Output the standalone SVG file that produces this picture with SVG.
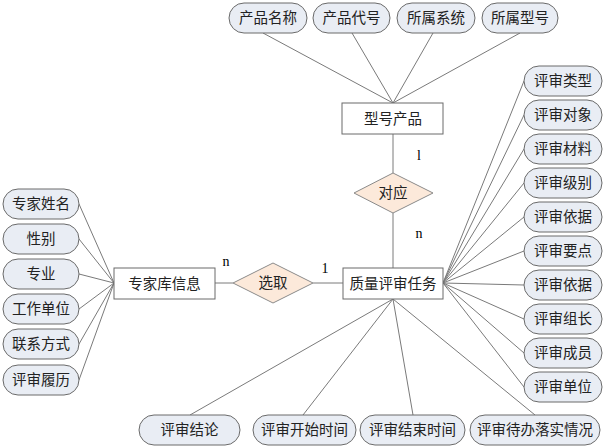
<svg xmlns="http://www.w3.org/2000/svg" width="604" height="447" viewBox="0 0 604 447">
<style>
.attr{fill:#e9edf4;stroke:#6a6a6a;stroke-width:1}
.ent{fill:#ffffff;stroke:#6a6a6a;stroke-width:1}
.rel{fill:#fce9da;stroke:#8a8a8a;stroke-width:1}
.conn line{stroke:#7a7a7a;stroke-width:1}
text{font-family:"Liberation Serif","Noto Sans CJK SC",serif;font-size:14.5px;fill:#222;text-anchor:middle;dominant-baseline:central}
.card{font-size:14px;fill:#000}
</style>
<rect width="604" height="447" fill="#ffffff"/>
<g id="connectors" class="conn">
<line x1="263" y1="33" x2="393" y2="103"/>
<line x1="352" y1="33" x2="393" y2="103"/>
<line x1="433" y1="33" x2="393" y2="103"/>
<line x1="520" y1="33" x2="393" y2="103"/>
<line x1="393" y1="134" x2="393" y2="173"/>
<line x1="393" y1="213" x2="393" y2="268"/>
<line x1="79" y1="204" x2="114" y2="283"/>
<line x1="79" y1="239" x2="114" y2="283"/>
<line x1="79" y1="274" x2="114" y2="283"/>
<line x1="79" y1="309" x2="114" y2="283"/>
<line x1="79" y1="344" x2="114" y2="283"/>
<line x1="79" y1="380" x2="114" y2="283"/>
<line x1="215" y1="283" x2="233" y2="283"/>
<line x1="313" y1="283" x2="343" y2="283"/>
<line x1="524" y1="81" x2="443" y2="283"/>
<line x1="524" y1="115" x2="443" y2="283"/>
<line x1="524" y1="149" x2="443" y2="283"/>
<line x1="524" y1="183" x2="443" y2="283"/>
<line x1="524" y1="217" x2="443" y2="283"/>
<line x1="524" y1="251" x2="443" y2="283"/>
<line x1="524" y1="285" x2="443" y2="283"/>
<line x1="524" y1="319" x2="443" y2="283"/>
<line x1="524" y1="353" x2="443" y2="283"/>
<line x1="524" y1="387" x2="443" y2="283"/>
<line x1="393" y1="299" x2="190" y2="415"/>
<line x1="393" y1="299" x2="303" y2="415"/>
<line x1="393" y1="299" x2="413" y2="415"/>
<line x1="393" y1="299" x2="535" y2="415"/>
</g>
<g id="cards">
<text class="card" x="419" y="155">l</text>
<text class="card" x="419" y="233">n</text>
<text class="card" x="226" y="261">n</text>
<text class="card" x="325" y="268">1</text>
</g>
<g id="e-xinghao"><rect class="ent" x="342" y="103" width="101" height="31"/><text x="393" y="118.5">型号产品</text></g>
<g id="e-zhiliang"><rect class="ent" x="343" y="268" width="100" height="31"/><text x="393" y="283.5">质量评审任务</text></g>
<g id="e-zhuanjia"><rect class="ent" x="114" y="268" width="101" height="31"/><text x="164.5" y="283.5">专家库信息</text></g>
<g id="r-duiying"><polygon class="rel" points="393,173 433,193 393,213 354,193"/><text x="393" y="193">对应</text></g>
<g id="r-xuanqu"><polygon class="rel" points="273,263 313,283 273,303 233,283"/><text x="273" y="283">选取</text></g>
<g id="a-top1"><rect class="attr" x="229" y="3" width="78" height="30" rx="15"/><text x="268" y="18">产品名称</text></g>
<g id="a-top2"><rect class="attr" x="313" y="3" width="77" height="30" rx="15"/><text x="351.5" y="18">产品代号</text></g>
<g id="a-top3"><rect class="attr" x="397" y="3" width="78" height="30" rx="15"/><text x="436" y="18">所属系统</text></g>
<g id="a-top4"><rect class="attr" x="482" y="3" width="76" height="30" rx="15"/><text x="520" y="18">所属型号</text></g>
<g id="a-left1"><rect class="attr" x="3" y="189" width="76" height="30" rx="15"/><text x="41" y="204">专家姓名</text></g>
<g id="a-left2"><rect class="attr" x="3" y="224" width="76" height="30" rx="15"/><text x="41" y="239">性别</text></g>
<g id="a-left3"><rect class="attr" x="3" y="259" width="76" height="30" rx="15"/><text x="41" y="274">专业</text></g>
<g id="a-left4"><rect class="attr" x="3" y="294" width="76" height="30" rx="15"/><text x="41" y="309">工作单位</text></g>
<g id="a-left5"><rect class="attr" x="3" y="329" width="76" height="30" rx="15"/><text x="41" y="344">联系方式</text></g>
<g id="a-left6"><rect class="attr" x="3" y="365" width="76" height="30" rx="15"/><text x="41" y="380">评审履历</text></g>
<g id="a-r1"><rect class="attr" x="524" y="66" width="78" height="30" rx="15"/><text x="563" y="81">评审类型</text></g>
<g id="a-r2"><rect class="attr" x="524" y="100" width="78" height="30" rx="15"/><text x="563" y="115">评审对象</text></g>
<g id="a-r3"><rect class="attr" x="524" y="134" width="78" height="30" rx="15"/><text x="563" y="149">评审材料</text></g>
<g id="a-r4"><rect class="attr" x="524" y="168" width="78" height="30" rx="15"/><text x="563" y="183">评审级别</text></g>
<g id="a-r5"><rect class="attr" x="524" y="202" width="78" height="30" rx="15"/><text x="563" y="217">评审依据</text></g>
<g id="a-r6"><rect class="attr" x="524" y="236" width="78" height="30" rx="15"/><text x="563" y="251">评审要点</text></g>
<g id="a-r7"><rect class="attr" x="524" y="270" width="78" height="30" rx="15"/><text x="563" y="285">评审依据</text></g>
<g id="a-r8"><rect class="attr" x="524" y="304" width="78" height="30" rx="15"/><text x="563" y="319">评审组长</text></g>
<g id="a-r9"><rect class="attr" x="524" y="338" width="78" height="30" rx="15"/><text x="563" y="353">评审成员</text></g>
<g id="a-r10"><rect class="attr" x="524" y="372" width="78" height="30" rx="15"/><text x="563" y="387">评审单位</text></g>
<g id="a-b1"><rect class="attr" x="139" y="415" width="101" height="30" rx="15"/><text x="189.5" y="430">评审结论</text></g>
<g id="a-b2"><rect class="attr" x="253" y="415" width="103" height="30" rx="15"/><text x="304.5" y="430">评审开始时间</text></g>
<g id="a-b3"><rect class="attr" x="360" y="415" width="105" height="30" rx="15"/><text x="412.5" y="430">评审结束时间</text></g>
<g id="a-b4"><rect class="attr" x="470" y="415" width="130" height="30" rx="15"/><text x="535" y="430">评审待办落实情况</text></g>
</svg>
